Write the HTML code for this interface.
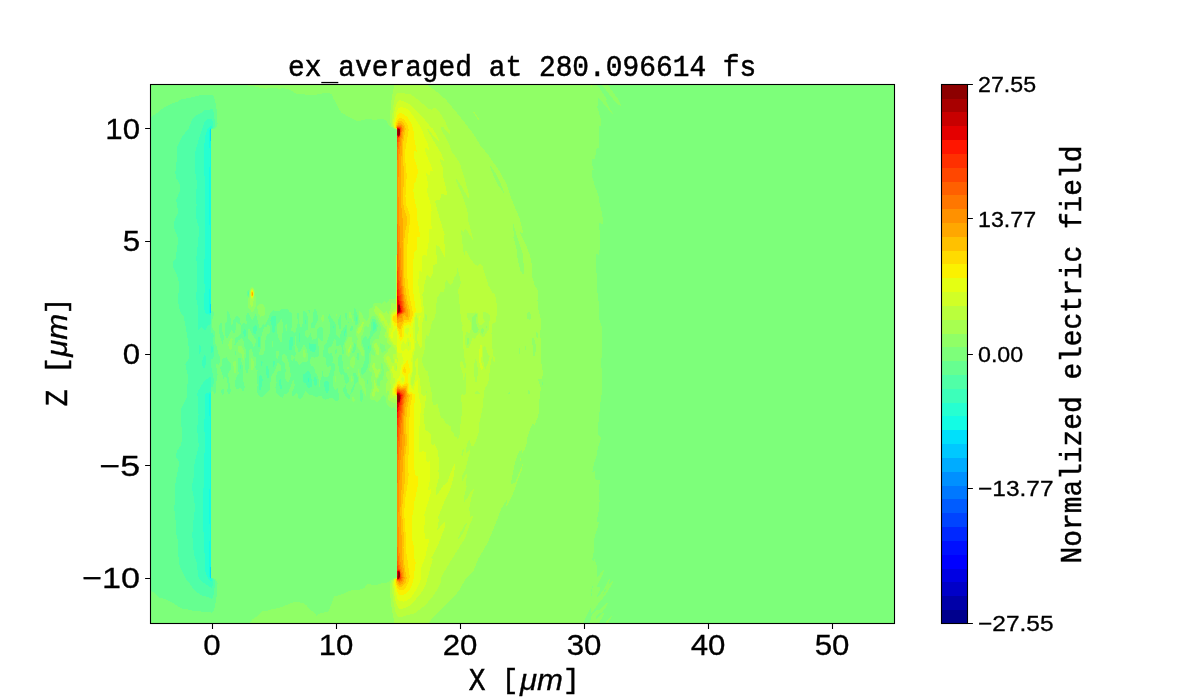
<!DOCTYPE html>
<html><head><meta charset="utf-8"><title>ex_averaged</title>
<style>
html,body{margin:0;padding:0;background:#fff;}
svg{display:block;will-change:transform;}
.s{font-family:"Liberation Sans",sans-serif;fill:#000;stroke:#000;stroke-width:0.3px;}
.m{font-family:"Liberation Mono",monospace;fill:#000;stroke:#000;stroke-width:0.5px;}
.i{font-family:"Liberation Sans",sans-serif;font-style:italic;fill:#000;stroke:#000;stroke-width:0.3px;}
</style></head><body>
<svg width="1200" height="700" viewBox="0 0 1200 700">
<rect x="0" y="0" width="1200" height="700" fill="#ffffff"/>
<defs><clipPath id="ax"><rect x="150" y="84" width="745" height="540"/></clipPath></defs>
<g id="field" clip-path="url(#ax)" shape-rendering="crispEdges">
<rect x="150" y="84" width="745" height="540" fill="#7dff7a"/>
<path fill="#90ff66" fill-rule="evenodd" d="M247 83.5l349.8 0 0 1 8.9 13 1 2-0.8 1 0.4 1 6.3 12-0.1 0.5-1-0.8-12-14.4-1-0.9-1 0.2 0.1 3.4 0.9 4-1 0.2-0.3 0.8 3.4 12 0 3 1 5-2.1-0.5-0.2 0.5 0.1 9-0.6 12-0.3 0.6-2 0.5-0.6 0.9-0.6 8-0.6 2-2.2-1-0.9 1 0.2 5 1.8 5-0.1 1-2-1 0.4 6 1.9 7 4.7 13.8 1.3 8.2 1.7 6.1 1 5.9 0.2 5-0.2 2.6-3-1.2-0.6 2.6 1.2 9 0.4 13.4-1.4 2.6-0.6 4.3-2-1.1-0.8 0.8-0.1 1 0.5 5 0 9 1.4 11.1-0.5 8.9 1.5 11 0.6 15 0.5 5 1.9 5.9 1 9.7-1.3 29.4 1.2 9 0.1 13.1-1.8 12.9-3 30 0.8 4.2 2 2.5 0 2.3-2.6 9-1.4 7.2-2.6 8.8-1.4 7 1 0.3 1-0.9 1 0.3-0.7 5.3 0.4 2 1.3 1.1 3.1 0.9-0.1 3.8-1 6.2 0.1 8 0.9 1.4 0.1 1.6-1.1 10.4-1.9 9.6 0.9 0.8 1-0.6 0 2.8-3.9 13-0.6 4-0.5 12.1-1.3 5.9 1.3 1.8 1-2 2.5 7.2-0.2 10 0.7 0.7 5-6.5 1-0.3 0.2 1.1-1.8 5-4.8 9-0.1 1 0.5 0.8 2-0.3 0.8 0.5 0.1 1-3 7-0.3 1 0.4 1 6.1-8 4.9-9.7 1-0.9 0.3 0.6-0.8 3 0 1 0.5 0.3 3-2.5 0.4 0.2-1 3-4.9 8-4.4 6-4.1 4.7-7 10.3-1-5.4-6.5 12.4-0.9 4-333.1 0 0.3-2 1.9-3 5.3-3.6 5-4.8 5-0.3 5-1.7 7-1.3 14-5.6 4 0 6 0.8 3.1 2.5 3.4 4 3.9 3 2.6 3.1 4-2.4 7-1.4 1-0.6 1.5-2.7 0.1-2 0.9-1 1.1-4 0.9-1 0.3-2 1.2-2 9-2.7 5-2.6 3-1 7-0.2 4-1 2.4-1.5 1.6-2.8 1-0.8 6 1.2 3 0 5-1.6 5-0.7 8-5 2-0.3 0-167.6-2-2.1-1-0.4-2 0.6-4-2.7-1-2-0.3-4.8-1.7-2.5-1-0.5-1 0.5-2 3-3 3.2-3-1.8-2 0.1-1.5-1-1.2-2 0.9-6 1.5-5-0.2-3-1.4-4 1.4-5-0.4-2-2.1-1.4-0.3-1.6 1.7-8 0.1-6 0.5-1.2 3 1.3 0.2-1.1-0.2-2.4-2-4.4-0.2-4.2 2.2-3.9 1-0.8 3 0.4 2.4-9.7-0.2-3-2.2-4.8-3-4.7-2-1.4-1 0-1.4 1.9-1.2 3-0.6 6-0.8 0.7-2-1.2-1 0-1 1.4-1.2 6.1-2.1 3-0.5 5 0.3 4 2.5 4.5 0.6 2.5-0.4 3-1.2 0.7-1-0.8-1.5-4.9-2.5-3-0.5-5 0.7-4-1.7-4-0.3-2 0.3-3 3.7-7-0.8-9 0.2-2 0.4-0.4 2.5 2.4 1.5 4.3 3 2.8 1-0.4 1.5-3.7 0.5-7.6 1-1.2 1 0.5 1-0.9 0.8-2.8 1.2-1.5 1-0.4 4 0.2 2 1.4 2-2.5 1-0.3 2 1.3 1-0.2 1.8-3 1.2-0.8 4 0 2-1.2 0-168-2-0.3-4.7-2.7-1.1-1-2.2-4.7-3-1.6-3-0.2-6 1-6-1.1-2 0.1-6 1.7-2 0.1-3-0.4-7-3.5-7.1-4.4-3.4-5-2.2-5-2.5-4-1.3-4-0.5-0.6-2-0.7-6-0.1-2 0.8-7 1-7 0-6-1.1-4 0.4-2-0.7-5-3.4-6-1.8-5 0.3-7-0.6-7 0.6-5-0.7-7-1.9-5-0.3-1.5-1.2zM542.5 382.2l-0.6 1.3 0.6 1.5 0.7-1.5zM591.5 588.5l-0.7 2 0.7 1.8zM592.5 585.8l-0.8 1.7 1 0zM604.5 590.5l-1.5 3 0.5 0.5 1.3-2.5zM605.5 589.2l-1 1.3 1 0.4zM380.5 342.9l-0.8 1.6 0.8 4.7 1 3.2 1 0.7 3-2.5 0-2.1-1-3.5-3-1zM591.5 593l-0.4 2.5 0.4 0.7zM381.5 363.4l-0.3 2.1 0.5 5-0.4 2-1.8 2.7-1 2.7-1.3 1.6-0.6 2 0.5 3 1.4 1.6 1-0.5 1-4.3 2-1.6 1.6-6.2-1.1-8-0.5-1.3zM601.6 83.5l5.8 0 0 1 11 15 2.1 4 0.4 2-0.4 0.4-3-2-4-4.2-11.9-15.2zM211.5 131.5l0-0.4 0.4 0.4 0 168-0.4 8.3zM250.9 287.5l1.6-0.7 1 0.8 1.4 2.9 0.4 2 0.7 13-2.5 5.7-1 1.2-1-0.6-3.2-4.3-0.7-3 0.2-4 1.4-4 0.5-7zM258.7 304.5l1.8-0.9 1 0.1 1.4 0.8 1.4 2 0.7 3 0.1 3-0.4 2-1.2 1.6-3 0.4-2-2.2-1.4-6.8 0.1-1zM349.2 312.5l0.3-0.4 1 0.2 0.8 1.2 0.6 4 1 2-0.4 2.4-1.1-3.4-1.9-0.7-0.5-1.3zM336.4 313.5l0.6 1-0.5 1.1zM322.4 314.5l1.1 0.6 0.5 2.4-0.5 3.7-1 0.6-1.2-2.3 0.2-2.8zM350.4 336.5l1.1 0.7 0.9 2.3 0.3 5-2.8 11-0.4 0.9-1 0.3-1-0.5-1-1.6-1.3-9.1 0.3-2 2.9-6zM231.2 338.5l0.3-0.5 0.8 0.5 0.2 1-1 9.7-1 1.2-1.7-2.9-0.5-3 0.8-3zM238.3 346.5l1.2-0.9 2 0.8 2 3.1 1.1 4-1.1 6.1-1-1.2-1.2-4.9-0.8-0.9-1 0.2-1-0.6-0.6-2.7zM303 350.5l0.5-1 1 0.2 1 2.8 0.1 4-1.1 1.2-1-0.9-0.8-2.3zM352.9 356.5l0.6-0.3 1 0.8 0.8 5.5-1.1 4-0.7 1.1-1 0.1-2.7-2.2-0.2-2 1.2-5zM251.1 358.5l0.4-0.5 1.8 2.5 0.6 2-0.2 5-1.2 2.3-1.1-0.3-0.9-2.7 0-6.6zM234.2 360.5l1.3 0.2 0.4 1.8 0.5 7-0.9 3.7-1 0-0.6-2.7-0.5-6 0.1-2.2zM347.1 366.5l1.4 0 0 3-1.4-1zM357.5 369.5l1-0.2 1.5 5.2 1.4 3 2.1 1.2 0.9 1.8 1.9 13-0.2 2-0.6 0.3-1-1.7-3-8.4-2.3-2.2-0.3-6-1.4-5.5zM335.4 376.5l0.1-0.6 0.8 3.6-0.8 2.2-0.7-2.2zM351.2 376.5l0.3-0.6 1.1 3.6-0.1 1.5-1 1.3zM219.4 377.5l0.1 3-1 2 0-3.1zM211.5 396.5l0.4 13 0 166-0.4 0.4zM352.1 397.5l0.4-0.7 1 0 1 2.3 0 2.3-1 1-1.3-1.9zM607.4 602.5l0.4 0-0.1 1-0.8 2-4.1 6-1.3 1.3-1 0.2-1-0.3-1 0.8-2.8 4 0.3 1 1.5 0 4-4.6 3-1.6-1 3.2-5 8 0 1-12.7 0 0-1 1.7-0.9 2 0.5 0.3-2.6 1.2-1 0.5-3.9 5-6.1 2 0.5 2-0.9zM610.6 616.5l0.9-0.7 0.5 0.7-4.5 7 0 1-2.8 0 0-1z"/>
<path fill="#a7ff50" fill-rule="evenodd" d="M394.7 83.5l32.7 0 0 1 1.1 1.5 7 4.8 10 8.4 13 15.5 14.6 18.8 7.4 12.2 8 9.4 12 17.8 6.2 11.6 4.3 13 8.6 21 3.2 13-0.3 2-1-0.1-1-1.1-0.4 0.2 0.4 2 6.2 12 3.6 10 1.6 8 0 10 0.6 3.5 2 6.8 1 2.2 1 0.7 1 1.9 0.8 4.9-0.8 6 0.1 3 0.8 6 2.6 11-0.1 6-0.9 8 1.1 8-0.3 10 0.6 11 1.1 6.1 0.2 4.9-0.5 4-3.7 0.3-0.3 0.7 2.7 9-1.7 13-0.1 10-1.5 6-2.1 5.5-1 1.6-2-0.5-1 1.7-4.3 11.7-0.7 7-1.4 4-2.6 4.5-1-3.2-2.1 1.7-2.2 4-1.7 5.2-4 19.1-0.4 2.7 0.4 1.9 1-0.7 2-0.4 1-1.5 7-17.5 0.1 1.2-1.1 5.2-3.2 7.8-3.8 11.5-3.5 8.5-3.5 6.2-1 1.3-0.3-0.5 0.7-4-0.4-1.2-5 8-8.6 22.2-5.1 12-9.4 16-4.9 12.2-2 2.5-5.8 5.3-6 11-3.2 4.4-8 8.4-11 10.3-7.8 8.9-1 2 0 1-33.8 0-3.1-15-2.2-19 0.1-5 1.7-5 3.1-2.2 2.1-0.8-0.1-173-1-1.1-6.9-2.9-0.5-3 0.8-4-0.4-2-1-0.5-1 1.9-1-1.4 1-2-0.2-6 1.7-3-0.2-1-1.9-3 0-3 0.6-2 2-0.8 0.1-1.2-1.1-3-3.6-6-0.5-3 1-2 2.8-3 1.3-3.9 2-1.4 0.1-1.7-0.8-1-1.3 0-0.8-1-1.2-5.3-2-0.7 0-2 1.3-4-0.3-2.5-2-1.8-1-2.6-2-2.5-3-5.9-2.9-3.7-0.4-2 0.5-3 0.8-1.3 1 0 3 2.3 4 4.5 1 0.2 2-2.1 1 2.2 1 0.3 2-4.9 0.4-4.2 0.6-1.2 1-0.5 2 1.4 2-0.4 0.1-174.3-2.1-0.8-3.1-2.2-1.1-4-0.6-5 2.1-20zM467.5 337.5l-0.9 3 0.9 4.1 1-0.1 0.7-3-0.7-3zM475.5 314.2l-3 3-0.5 2.3 0.3 10 1.2 2.7 1 0.7 2-0.4 1.2-1 1.2-2-2.8-6-0.2-3 0.9-5-0.3-1.1zM482.5 328.1l-1.6 1.4-0.3 1 0.9 2.9 1 0.5 1-2.4 0.2-2-0.4-1zM486.5 325.8l-0.5 1.7 0.5 1 0.5-2zM490.5 165.9l-0.4 1.6 4.4 10.7 4 7.4 5 7.1 0.2-1.2-3.7-10-4.9-9zM509.5 392.4l-1.8 1.1 1.8 0.5 0.4-0.5zM513.5 224.1l-0.9 2.4 1.2 6-0.3 5 3.1 12 0.9 8.9 1.8 8.1 1.2 4.1 2 3.6 1-0.7 0.7-4-1.7-16.8-6.4-19.2zM525.5 345.5l-0.7 1 0.7 3.4 0.6-1.4zM528.5 312.2l-1.8 1.3 0 3 0.8 2.5 2 0.8 1-0.4 0.6-0.9 0.1-4-1.7-2.1zM532.5 337.7l-0.4 2.8 1.1 13 0.3 2.2 1 0.2 1.2-4.4 0.1-5-0.8-6-1.5-2.5zM536.5 332.3l-0.1 4.2 1.1 1.9 0.1-4.9zM519.5 347.9l-0.6 3.6 0.6 2.8 0.6-2.8zM528.5 390l-0.6 2.5 0.6 1.4 1 0 0.5-2.4zM590.3 83.5l1.3 0 0.9 3.4-1-0.4-1-1.3zM473.4 112.5l0.1-0.5 1 0.3 2.4 3.2 1.8 3 0.2 1-0.4 0.5zM251.6 288.5l0.9-0.2 1.1 1.2 0.7 2 0.2 3-1.6 10-0.4 1.3-1 0.7-1-1.1-0.4-1.9-0.4-9 0.5-4zM362.3 322.5l0.2-0.4 1 0.3 0 1.8-2 6.2-1 1.6-2 1.7-1.1-1.2 0.2-3 0.9-2 3-3zM374.9 343.5l0.6-0.8 1-0.1 2.1 4.9 0.8 5-0.9 2.9-1-0.2-1-1.5-1-4.1-1.8-3.1 0.4-2zM350.3 345.5l0.2-0.8 0.3 1.8-0.3 2-1 3.6-1 0.9-0.5-1.5 0.1-2zM373.5 362.5l1 0.5 1 4.9 1 1.5 1 0.1 1-1 1 0.4 0 2.6-1.8 5-1.2 1.1-1-0.6-1.4-5.5-2.1-4 0.2-2zM374.2 380.5l0.3-0.3 0.6 1.3 1 4 2.6 4 0.5 2-0.7 0.5-2-0.7-0.4 0.2-0.6 0.6-0.7 3.4-1.3 1.1-1-1-0.3-2.1 1.4-5-0.1-7zM520.4 458.5l0.1-0.3 0.4 0.3-0.4 2.2z"/>
<path fill="#baff3c" fill-rule="evenodd" d="M397.1 93.5l1.4-0.9 1 0 11 1.8 4 2.5 14 11.6 3 1 3-1.6 2 1 2 2 3 4.5 4 6.8 1.7 4.3 2.4 4 0.8 2-0.9 1.1-2-1.4-4-4.8-2-0.7-0.7 0.8 0.5 2 7.1 13 3.4 9 6.7 9.6 2.3 4.4 1 5 2.2 6 4.2 15 0.9 5-0.6 1.3-1-0.9-7-12.2-4-5.7-0.6 0.5 0.6 2.5 6.2 14.5 4.7 14 1.1 11 4.2 16-0.2 2.3-5-8.7-2-2.4-0.9 0.8-1.1 2.7-2-2.1-0.3 1.4 0.3 4 2 16.7 1 2.7 0.9-3.4 1.1-0.5 4.5 8.5 3.5 4.6 3 1.9 1-0.5 1-1.7 1 0.1 2 2.5 6 19.2 4 7.3 1-0.1 1 0.7 1.8 7 0.4 5-0.1 10-0.5 4-0.6 2.8-1 0.6-1-0.3-1 1.2-1 9.7 1.4 21 0.6 1.7 1 0.3 0.5 1-0.1 3-0.4 1.2-1-1-1-3.9-1 2.7-1.1 6-1.9 15.3-1 3.7-2.1 3-1.3 4-1.3 15-3.5 17-0.8 10-3 9-2 3.1-1 0.8-1-0.1-2-6.3-1 1.2-1 2.3-1.3 5-0.2 3 0.5 1.3 3-2.5 0 3.3-3.8 14.9-2.6 5-1 3-0.2 3 0.6 1.6 2.6-5.6 1.3-2 0.4 0 0.5 1-1.5 7 0.7 5-2.8 12 0.2 2 0.6 1.2 2-2.4 5-8.6 2-2.2 0 2-2.2 7-2.1 11 0.8 7 0.5 1.1 2-0.5 0.4 0.4-0.4 2-3.5 8-3.5 11-18.8 30-5.1 9-0.8 2 0.7 2-2.1 5-2.8 5-5.1 7.5-6 7-11 8.5-2 0.8-4 0.4-8 2.5-2-0.6-1-0.9-2.1-4.2-2.3-12-1.3-13 0.1-3 0.8-3 0.8-1 3-1.5 0.1-0.5-0.1-177.9-2-0.5-2-1.6-2.1 0-0.1-7 0.8-4-1-5 1.4-6-1-3-0.5-5-2.5-4.3-1.5-4.7 0.5-2 1-0.8 1 0 1.5 1.8 1.6 5 0.9 1 1-0.5 0.2-2.5-0.7-5 0.5-1.1 2-0.2 0.4-2.7-0.6-3-1.9-2-1.9-3.6-2-1.8-0.8-1.6-1.4-8-0.3-5-1.9-1-1.5-4-2.2-1-1.9-4.3-0.5-2.7 0.5-0.9 1 0.3 3 2.8 1.4 3.8 2 1 1.1 4 0.5 0.4 1.3-2.4 0.1-6 1.1-4 1.5-1.9 3-1.8 1-1.4 0.1-177.9-0.1-0.4-3-1.6-0.8-1-0.7-3-0.1-3 0.9-11 1.5-9 1.2-4.4zM425.5 314.3l-0.6 2.2 0.2 3 0.4 1.4 1 0.2 0.8-1.6 0.1-2-0.9-3zM457.5 267.8l-0.7 5.7-1.3 2.7-1.5 1.3-0.7 4-0.8 1.8-2 1.3-1-0.2-3-4.6-1 2.1-0.6 5.6-1.3 5-3.1-0.2-3 5.2-1.2 7-0.2 7-1.3 6-2.9 5-2.4 10.9-1 2.7-2-1-0.9 2.4-0.9 12-3 11 0.4 2 2.4 5.6 1 1.6 2 1.8 0.3 1 4.3 23 0.4 6 1 3.4 1 0.6 2-1.2 1 0.1 3 12 1 1.3 2 0.9 2 4.7 2 0.5 2 2.1 1 0.4 1 4.7 2 1.6 0.6 0.9 0.4 2.3 0.6 0.7 1.4 0.2 1 2.4 1-0.9 1.2-3.7 0.7-5 0-5 1.7-13 0.2-6-1.1-5 0.3-5.5 1-1.1 1 1.2 1 0.1 1.9-1.7 0.1-1-1-2 0.6-9-0.5-8-0.1-0.4-2 7.4-0.6-6-2.7-8 0.3-4.7 1-1 1.4 1.7 1.6 5.8 1 0.2 0.4-3-1.6-9-0.7-7-0.9-4-0.1-13-0.4-5 0.5-2-1.5-4-2.9-30 0.2-2.9 1.9-3.1 0.3-4zM475.5 312.2l-2 0.7-5-0.2-1.4 0.8-0.3 1 1 5 0.7 1 1-0.1 1 1.3 0.3 3.8-0.3 4.6-0.8 2.4-1.2 0.1-1-0.7-1 0.5-1.3 4.1-0.3 4 0.4 4 1 3 1.2 0.7 1.3-0.7 1.4-2 2.3-7.8 2 1.1 1-0.7 2.1-3.6 0.9-0.9 1-0.2 3 3.9 1-0.2 4.7-6.6 0.7-2 0.3-6 0.9-5-0.3-2-0.6-1-1.7-1.6-3-0.6-1.1 0.2-0.7 1 0.1 3 0.7 3 1.2 2-3.2 3.6-1 0.4-1.2-1-1.2-3-0.3-8zM466.5 522.9l-2 2.4-4 7.1-2.2 5.1 0.2 1.5 2.3-2.5 2.7-4.4 3.2-7.6 0.2-1zM395.5 366l0 2.3 1 0.5 0-3.2zM426.5 391.2l-0.5 1.3 0.5 0.5 0.5-0.5zM463.5 448.6l-1 1.5-1 4.4 0.4 1 0.6 0.2 1.2-4.2zM475.5 359.2l-1.3 5.3-0.3 9 1.6 8 1 0.6 1.2-7.6 0.2-5-1.4-9zM484.5 345.9l-1 1.2-0.4 2.4 0 10 1.4 7.2 1 2.8 3.7-11 0.3-2-0.3-1-2.2-3-1.2-5zM476.5 391.2l-1.6 1.3-0.2 1 2.8 0.7 2-0.3 0.4-0.4-0.4-1-1-0.7zM251.4 289.5l1.1-0.4 0.4 0.4 1.2 3-0.2 4-1.4 2.6-1 0-1.3-3.6 0-3z"/>
<path fill="#d1ff26" fill-rule="evenodd" d="M398.7 100.5l1.8-0.2 3 1 4.7 2.2 3.3 2.2 14 14.8 3.8 5 3.2 2.9 5 8.4 1.1 2.7-0.1 1.3-2-1.3-3-3.2-5-7.1-1-0.6-0.1 0.9 4.2 8 9.9 16.6 2.6 6.4-0.6 0.7-3-2.3-1.1-0.4 0.3 2 3.3 8-0.2 7 3.6 14 0.3 5-0.2 0.5-1 0.2-2-1-2-0.2-0.7 0.5-0.3 4-0.9 2-3.1-0.2-1 1.2 0 1 1.5 7 7.6 25-0.6 5 1 8-0.4 10-4.8-10-1.3-1.3-2-0.7-0.5 2 1 14-0.2 2-0.3 0.7-3 0.7-0.9 8.6-2.1 4.8-3-2.9-1 1-2 7.9-1 8.4-1.1 1.8 1.6 17-0.5 6.7-1.8 6.3 0.3 20-0.5 2.7-1 1.3-3.6-9 0.1-4 1.6-5 0.1-2-1.2-10.8-1-2.5-1 1.6-0.9 9.7 0 8 1 7-0.2 4-0.8 5-2.1 8.2 0.6 10.8-2.3 11 0.6 4 1.1 1.3 1-1.3 2-9 0.5-5-0.9-6 0.2-3 1.2-2.9 1-0.7 1 0.1-0.4 13.5 0.4 3.3 1.8 5.7 0.4 11 0.8 2.3 2 2.5 2-1 0.7 1.2-2.7 18 0 6.3 1 2.7 1 6 1 1.6 2 0.6 1 0.8 1 1.6 1 10 1 0.9 2-0.7 1 1.2 1.8 4 1.1 4 0.4 11-0.4 7 0.6 5-2.8 12-0.4 5 0.7 1.3 2-1.9 4.7-7.4 3.3-2 1-1.4 5-14.4 2-3.3 0.5 2.1-1.6 11-2.2 9-2.7 6.8-3.4 6.2-6.7 17 0.2 5-1.4 8 0.3 0.3 1-0.8 4.2-5.5 1.8-1.6 0.3 5.6-7.8 20-5.5 10 0 1 1 0.7 0 0.7-6.4 23.6-2.3 5-3.1 5-8.2 9.5-3 2.7-3 1.8-6 1.5-1-0.2-1.5-1.3-2.1-5-1.6-8-1.2-10 0.6-4 0.6-1 2.2-1.4 0.2-0.6 0-166-0.2-15.1-3.1-0.9-1.4-1-0.5-1 0.2-3 2-7 0.9-1 0.6-2-0.7-2.3-1-0.1-0.5-4.6-1.5-2.5-0.2-1.5 0.8-3 1.4-0.3 1 3.9 1 1.1 1.3 0.3 0.6-2 0.1-6-0.2-1-1.8 0.3-0.4-2.3 0.4-1.7 1 0 0.8 0.7 0.2 2.6 0.2-2.6-1.2-13-0.3-1-2-1-4.3-6-0.6-2-0.3-7 0.5-1.6 1-0.2 0.5-1.2 0.1-10 0.4-2.1 1-1.7 4-2.2 0.2-181-0.2-0.6-2.2-1.4-0.6-1-0.5-4 0.9-9 1.4-6.9 2-5zM408.5 341.9l-0.4 2.6 0.4 1.7 0.9-0.7 0.1-1zM251.2 290.5l1.3-0.7 1.3 2.7-0.1 3-1.2 2.5-1-0.2-0.9-2.3 0-3zM480.4 345.5l0.1-0.4 1 0.2 0.3 1.2-0.1 9-0.8 6 1.6 4 0.2 2-0.2 1.5-1 1.1-1-1.6-0.8-4-0.9-9 0.3-5z"/>
<path fill="#e4ff13" fill-rule="evenodd" d="M400.1 107.5l2.4-0.1 2 0.4 3 1.6 2 1.8 5 6.3 7.5 12 3.1 9 2.4 4.8 1.2 4.2-0.2 2.1-3-1.8-0.5 1.7 0.6 3 5.9 14.4 1.1 3.6-0.1 0.5-2.2 0.5-0.3 3-0.5 0.7-3-1.9-0.3 1.2 1.8 9-1 8 3.5 12.5 1.1 6.5-0.8 7 0.9 11-0.2 0.6-2 0.2-0.3 1.2 0.1 10-1.5 4-0.6 10-0.7 1.4-2-1.1-1 0.1-1 1.1-0.6 2.5-0.1 12-0.3 1.2-2-0.4-0.3 1.2-0.1 5-0.7 2-0.3 4 3.1 20 0.6 7-0.3 1.3-1 0.8-4 0.4-1 0.4-0.7 1.1-0.8 6-1.2 5-0.3 3 0.5 8 1 5 0 3-0.5 4.5-1.3 3.5-0.8 7 0.6 11-0.5 2.4-1.5 3.6-0.3 3 1.2 8 2.6 2.4 2-8.2 1-1 1-0.2 1.4 17 1.9 6 0.1 5-1.9 24-0.5 16.7 1 2.9 0.6 0.4 3.4-1.6 2 1.4 1 8.3 1 1.1 2-0.3 0.5 2.1 0 7 0.5 7-2.5 12 0.5 0.8 2-1 0.1 4.2-6.2 21 0.6 7-1.3 8 0.2 2 0.9 2 0.2 5 0.5 0.8 1 0.1 2-0.5 0.5 1.6-3.9 17-3.8 10-0.1 10-2.3 7-3.7 7-4.4 6-3.6 3-3.7 1.2-4-0.8-2-2.3-2-6.3-1.4-8.8 0.3-3 0.5-1 1.6-1.2 0.2-0.8 0.1-165-0.3-17-3.3-2-0.6-2 1.4-5 2.5-4 1-3.3 2.4-3.7 1-9 2.4-4 0.4-2-2.2-7.1-3-0.4-1-0.7-0.5-19.8-0.5-4.7-2.7 3.7-0.6 2-0.1 4-0.4 1-1.4-1-0.9-2 0.3-2 1.7-3 0.5-2 0-2-1.2-6 0.3-5 1.5-1.9 3-1.8 0.1-2.3 0.1-180-0.2-0.8-1.6-1.2-0.5-1-0.2-3 2.3-12 1.7-3zM407.5 327.5l-2 1.6-0.3 1.4 0.3 2.2 1 1.4 1 0.4 1-2 0.4-3-0.4-1.8zM402.5 377.2l-1 1.3-0.1 1 0.2 1 0.9 1.1 1-1 0.2-1.1-0.2-1.4zM407.5 338l-1 3.9-1 1.8-2-2.4-1 0.8-1.4 2.4-0.2 3 0.6 2.6 1 1.4 1-0.1 2-2.1 1-0.3 2 1.9 2.5-1.4 0.3-2-0.5-5-2.3-4.9zM251.9 290.5l0.6-0.2 0.7 1.2 0.4 2-0.2 2-0.9 1.8-1-0.3-0.8-2.5 0.4-3zM420.2 315.5l0.6 0-1.3 4.4-0.1-3.4z"/>
<path fill="#fbf100" fill-rule="evenodd" d="M399.2 113.5l1.3-0.4 3 0.8 4 3.2 3.7 6.4 2.3 7 1.2 11 2 9-0.2 1.1-2-0.2-0.8 1.1-0.2 4 3.6 10 1.1 6-1.5 4-0.7 5-2.3 3-0.3 7 0.7 6 2.7 12 0.7 11 2.6 15-0.6 1.9-2-0.5-0.3 0.6 0.1 10-0.8 2.5-2.1 2.5-1.4 11-0.4 24 3.3 23-0.3 1-1.7 2-0.6 5-2.8 7.5-2-1.9-4 2.4-1 3.6 0.3 6.4-2.3 3.9-1 0.2-1.3-2.1-2.7-12.5-1 0.4-1-0.6-2-5-0.2-2.3 0.6-3 3.6-2.6 0.1-2.4 0.3-170-0.1-11-0.3-1-1.1-1-0.4-2 0.3-3 1.2-4.7 1-2.4zM251.4 291.5l1.1-0.7 0.8 1.7 0 2-0.8 2.1-1-0.3-0.3-0.8-0.3-2zM410.3 334.5l0.2-0.9 0.3 1.9-0.3 1zM407.5 359.5l2.7 11-0.1 1-1.7 3-0.5 3 1.6 14 2 0.6 2 1.6 1.8 0.8 0.1 1-1 8-0.9 19 0.6 20-0.3 13 0.7 14.4 1 5.3 2 1.3 0.3 1 0.1 7-0.7 5-2.6 11-1.2 10-1.3 7-0.3 18 0.5 5 1.8 7-0.5 10 1.7 3 0.4 2-2.4 18-2 6-2.3 4-2.5 2.6-3 1.6-3 0.4-2-1.1-1-1.6-2-6.4-0.6-3.5 0.5-3 1.1-1 0.3-1 0.1-7 0-157-0.4-19-2.3-2-0.5-2 0.8-2.8 2-2.7 1-3.2 1-0.7 1 0.1 1.4 2.3 1.6 0.5 1.1-0.5 1.3-2 0.2-4-0.9-2-2-2-0.5-2 0-2 1-3 3.2-4z"/>
<path fill="#ffdb00" fill-rule="evenodd" d="M398.5 118.5l1-0.7 2 0.1 3 2.1 2.9 4.5 1.3 5-3.3 20-0.2 10 1.5 16-1.3 21 1 9 2.8 7 0.8 4-0.3 7-0.8 8-0.9 4-0.6 11-0.2 29 1.7 17 3.8 19-0.2 5-2 5.4-2-0.2-2 1.3-2 0.5-1.2 2-0.9 3-0.2 6-0.7 2.6-1-0.3-1.3-4.3-1.7-3.3-1-6.3-1 0.2-1-1.2-1-1.4-0.3-2 0.3-2.1 3-2.1 0.2-3.8 0.4-161-0.2-20-0.4-1.4-0.7-0.6-0.2-2 0.9-3.7zM252.1 291.5l0.5 0 0.5 2-0.6 2.5-1-0.4-0.3-1.1 0.1-2zM404 367.5l0.5-0.6 0.5 0.6 1.3 5-0.8 1-2.3-2-0.2-2zM405.9 383.5l0.6-0.5 1 1.4 1 8.3 1 0.9 2 0.7 0.8 1.2-1.8 10-1.6 18 0.5 14-1.2 24 0.4 14-0.8 8-2.9 17-0.7 13 1.7 24 0.1 14 1.8 10 0.2 5 1.1 4 0.6 7-0.8 4-2.4 5-3 3-3 0.9-2-1.1-1-1.5-1.3-3.3-0.6-3 0.2-2 0.7-0.7 0.4-1.3 0.1-15-0.1-145-0.4-24.1-1.6-1.9-0.2-1 0.8-2.5 1-0.7 1-3.5 1-0.2 3 2 2-0.4z"/>
<path fill="#ffc100" fill-rule="evenodd" d="M398.4 121.5l2.1-0.6 2 1 2.6 3.6 0.6 3-2.2 12.1-0.3 4.9-0.2 12 1 17-0.2 9-0.7 8 0.1 10 0.7 7 2.8 8 0.6 4-0.3 3-1.7 7-1.2 12 0.1 32 1.5 16 1.8 10.2 2.7 10.8-0.8 7-0.8 1-2.1 0.9-2-0.1-2.7 5.2-1.3 3.6-1 0-2-2.6-0.9-11 0.5-34 0.1-117-0.3-35-0.7-2 0.4-3zM251.6 292.5l0.9-0.6 0.2 0.6-0.2 3-1-0.7zM397.5 385.5l1-0.1 3 1.4 4-0.8 1 0.5 1 6 2.3 3-2.3 12-1.7 16-0.1 6 1.4 8 0.1 3-1.9 15-0.3 23-2.8 29 0.2 10 1.6 21-0.5 9 0.2 11 1.3 11 1.7 9-0.6 3-1.6 2.8-2 1.9-2 0.8-2-0.8-1-1.2-1-2.3-0.3-2.2 0.7-3 0.1-7 0.2-58-0.2-100-0.3-16-0.6-6z"/>
<path fill="#ffa700" fill-rule="evenodd" d="M398.3 123.5l1.2-0.6 2 0.6 1.8 2 0.7 3-1.6 11-0.8 13-1 32 0.2 16 2.2 23-0.5 18 0.4 39 1.6 14.3 3.6 16.7-0.6 5.7-1-0.1-2-2.3-0.8 0.7-1 5-1.2 1.9-2-0.3-2 1.3-0.8-9.9 0.6-137-0.2-39-0.1-8-0.5-2 1-3zM251.9 293.5l0.6-0.9 0 2.1zM397.2 387.5l0.3-0.8 3 1.1 5 0.2 0.8 1.5 0.6 4 0.9 2-2.1 10-1.2 11-0.3 11 0.7 15-1.7 17-2.8 50 0.2 11 1 16 0.2 17 2.9 25-1.2 3.9-1 1.2-2 1.1-1-0.1-1.5-1.1-1.5-4 0.5-2 0.3-28-0.1-117-0.6-41z"/>
<path fill="#ff9100" fill-rule="evenodd" d="M399.5 124.5l2.1 1 1.2 3-3.5 27-1 27 0.4 26 3.4 74 2.4 19.7 1.9 9.3-0.4 1-3.6 2-0.9 3-2 0.8-2 2.2-0.7-8 0.6-130-0.1-40-0.6-15 0.8-1.7zM397.3 388.5l0.2-0.7 3 1.1 3 0.1 1.3 0.5 0.8 1 0.7 5-1.8 7.7-1.4 16.3-0.9 24-2.1 21-1.5 39-0.2 20 1.1 29 1 9 3 16-0.2 2-0.9 2-1.9 1.4-1 0.1-2-1.7-0.8-1.8 0.7-35-0.1-108-0.5-43z"/>
<path fill="#ff7700" fill-rule="evenodd" d="M397.4 126.5l1.1-0.6 2 0.1 1.2 1.5 0.4 2-3.3 16-1.3 14.7-0.6-32.7zM397.5 223.5l2.9 52 1.5 14 3.1 22-0.7 1-3.2 2-3.6 3.9-0.6-5.9zM397.3 389.5l0.2-0.7 1 0.2 2 0.9 3.2 0.6 1 1 0.3 3-1.2 7-2.6 24-2.7 35-1 23.4-0.7-89.4zM397.5 546.5l2 18 3.2 13-1 3-1.2 0.9-1 0.1-2-0.7-0.6-1.3z"/>
<path fill="#ff6000" fill-rule="evenodd" d="M397.1 127.5l0.4-0.7 2-0.2 1.4 0.9 0.6 2-0.5 4-0.8 3-1.1 2-1.6 8.8zM397.5 253.5l0-0.7 2 27.8 4.5 30.9-6.5 5.4-0.6-5.4zM397.3 390.5l0.2-0.8 1 0.2 4.9 2.6 0.5 3-4.2 30-2.2 28.5-0.6-59.5zM397.5 560.5l0-0.9 1.7 8.9 1 2 1.5 7-0.5 2-1.7 1.1-2-0.3-0.4-0.8z"/>
<path fill="#ff4700" fill-rule="evenodd" d="M397.3 127.5l1.2-0.5 1 0.3 1.2 1.2 0 1-0.5 6-0.3 1-1.7 2-0.7 3.2zM397.5 270.5l2 19.4 3.8 20.6 0 1-1 1-4.8 3.3-0.5-4.3zM397.3 391.5l0.2-1 2.4 1 2.6 2 0.6 2-3.6 22-2 19.5-0.5-41.5zM397.5 565.5l0.7 3 1.7 2 0.8 4 0.1 4-0.7 1-1.6 0.6-1-0.2-0.4-1.4z"/>
<path fill="#ff3000" fill-rule="evenodd" d="M397.9 127.5l1.6 0.3 0.7 0.7 0.2 4-0.9 4-1.7 1-0.3 0.6-0.3-9.6 0.3-1zM397.5 282.5l0-1 2 14.9 2.9 14.1 0 1-0.9 1-4 2.5-0.4-3.5zM397.4 391.5l1.1 0 1.6 1 2.1 2 0.3 1-3 15-2 15-0.5-30zM397.5 569.5l0-0.7 0.3 0.7 1.8 1 0.7 3-0.1 5-1.7 1.1-1-0.1-0.3-1z"/>
<path fill="#ff1600" fill-rule="evenodd" d="M397.3 128.5l0.2-0.7 1-0.1 1.3 0.8 0.4 1-0.2 5-0.5 1.6-1 0.9-1-0.7zM397.5 289.5l2 11.9 2.1 9.1 0 1-1 1-3.1 1.9-0.4-2.9zM397.4 392.5l0.1-0.7 1.6 0.7 2.2 2 0.4 1-2.2 9.9-2 12.2zM397.7 570.5l0.8-0.5 1 0.9 0.7 2.6 0 4-0.4 1-1.3 0.8-1-0.1-0.2-0.7-0.1-5z"/>
<path fill="#e40000" fill-rule="evenodd" d="M397.3 128.5l0.2-0.5 1 0 1.4 1.5 0 5-0.4 1.2-1 0.9-1-0.8zM397.5 295.5l0-0.3 1.6 8.3 1.1 2 0.6 5 0 1-3.3 2.6-0.3-2.6zM397.5 392.5l2 1 1.5 2-0.8 6-1.1 2-1.6 8.4-0.3-16.4zM398.3 570.5l1.3 1 0.5 5-0.6 1.9-1 0.6-1 0-0.1-6.5 0.1-1.3z"/>
<path fill="#c80000" fill-rule="evenodd" d="M397.4 128.5l1.5 0 0.6 0.5 0.4 1.5-0.2 4-1.2 1.7-1-1zM397.5 299.5l1.1 5 1.3 1 0.5 5-0.1 1-2.8 2.2zM397.4 393.5l0.1-0.7 1.3 0.7 1.5 2 0.1 1-0.5 5-1.3 1-1.1 5zM397.7 571.5l0.8-0.7 1 1 0.4 1.7-0.1 4-1.3 1.2-1.1-0.2z"/>
<path fill="#a80000" fill-rule="evenodd" d="M397.5 129.5l0-0.8 1-0.1 1 0.8 0.3 1.1-0.2 4-1.1 1.4-1-1.2zM397.5 303.5l0-0.7 0.4 1.7 1.7 1 0.6 4-0.4 2-2.3 1.8zM397.4 393.5l0.6 0 1.5 1.5 0.7 2.5-0.6 4-1.7 1-0.4 1.7zM398.1 571.5l0.4-0.4 1 1.2 0.4 2.2-0.4 3-1 1-1-0.1 0-5.9z"/>
<path fill="#8d0000" fill-rule="evenodd" d="M397.6 129.5l0.9-0.6 1.1 1.6-0.1 3.6-1 1.4-1-1.4zM397.5 305.5l1-0.3 1 0.7 0.5 2.6-0.5 2.8-2 1.6zM397.4 394.5l0.1-0.9 2.4 2.9-0.2 4-1.2 1.3-1-0.3zM397.7 572.5l0.8-1 1.1 2-0.1 3.5-1 1.1-1-0.7z"/>
<path fill="#66ff90" fill-rule="evenodd" d="M202.3 94.5l9.2 0 2 2 0.1 2 0.9 1 0.2 3 0.8 1 0.2 5 0.8 1 0.3 13 0.7 1-0.9 3-1.1 1.3-1 0.7-3 0.8-0.2 2.2 0 176 0.2 3.7 1.1-0.7 1.1 2 0.2 2-0.4 2-1.9 4-0.1 3 1 4.4 2.6 4.6 0.3 11 1.6 4 1.5 6.3 1.6 3.7-0.6 6.1-1 1-2-0.4-0.4 1.3 1.4 9-1.6 10 0.1 7-0.5 1.5-1 0.5-2-2.1-1 0.1-0.2 184 0.2 2.2 3 0.8 1 0.7 2 3.3 0 1-0.7 1-0.3 13-0.8 1-0.2 5-0.8 1-0.2 3-0.9 1-0.1 2-2 2-8-0.3-5-1.3-5-0.1-5-1.3-6-0.9-3-1.3-7.1-4.8-7.9-3.8-5-0.8-7-6.3-2-1.6-1 0 0-472.5 1 0 5-3.6 3-1.7 3-2.9 3-2.2 7-3.5 5-1.5 5-2.7 13-2.6zM247.5 290.5l1-0.8 0.5 3.8-0.5 3.4-1-0.6-0.5-1.8zM283 308.5l4.5 0.8 2 2.3 2 1.3 0.3 10.6-0.4 7 3.1 2.1 1-0.9 2.3-9.2-0.5-6 0.2-3.2 1 0.2 0.9 10 1.1 3.1 1 0.1 1-2.1 0.3-2.1 0.2-9 0.5-2.8 1 0.1 2.3 2.7 1.2 4 0 11-0.5 1.2-2.3 1.8-0.5 2 0.6 2 1.2 1.8 1 0.6 1-0.4 2-4.9 0.5 0.9 0.8 5 0.7 1.1 2-0.3 2.6-1.8 0-7 0.6-2 0.8-0.9 3-1 1 1.6 0.4 3.3-0.4 9.3-1 0.2-3-2.8-0.8 1.3 0.3 4 1.3 7-0.8 5.4-1 0.8-3 1-3-0.8-0.8 1.6-0.6 3 0.1 2 0.8 2 3 2 1.5 5 2.5 5 1.3 4 0.2 5.8 0.2-4.8 2.5-7-0.7-2.3 0-3.2 1 1.4 0.3 4.1 1.3 1 2.4 0.6 1-0.2 1-1.3 2.3-6.1 0.2-3-0.4-1-2.1 1.7-1.2 0.3-0.7-2-0.8-7-0.3-0.8-2-0.6-0.8-2.6 1.8-9.8 1-0.4 1-1.2 3.2-9.6 0.7-8-0.9-3.9-1.3-3.1 0.4-3 0.9-1.8 2.3 4.8 3.6 5 0.5 2 0 7 0.4 2 0.5 1 2.7 2.4 0.7-1.4 0.7-5 0.6-0.9 1-0.7 3-4.5 1-0.6 0.7 0.7 0.2 8-1.3 5-3.4 8 0.1 2 1.1 3-0.4 2.6-1 0.3-0.3-5.9-1.7-3.3-1-0.3-2 1.4-1 0.1-1-6.5-1-1.2-3 7.3-1 1.3-1.2 0.2-0.8 0.8-0.3 1.2 0.3 3.5 1 0.7 2-1 0.7 0.8 0.8 6-0.2 2-0.6 1 0.3 0.5 1-0.1 1.8 2.6 0.1 1-2.3 11-0.5 7 0.4 2 1.6 3 0.9 0.7 1-1.3 1-0.5 0.5 1.1 1 8-0.5 2-1 1.3-1 0.2-1-0.4-4-2.9-6 2-2-0.8-2-2.4-1-0.5-5 1-3-2.1-3 0-1-0.5-3-3.9-2.5 6-2.5 2.5-1 0.2-1-1.2-1-4.1-1-1.1-2 2.6-1 0.7-1-0.1-0.7-1.5 0.2-2 2.7-7-0.4-3-0.8-2.1-1 0.8-4.1 11.3-1.9 1.6-1-0.5-1 0.7-2 3.4-2-0.7-4-4.2-1-5.3 1-5-0.1-7 0.3-2 1.3-2 2.5-0.6 0.9-2.4-0.5-3-2.4-3-1 0.5-2.7 7.5-3.8 6-0.9 11-0.6 2.3-7 7.3-2-0.4-2.5-2.2-0.8-3 0.4-7-0.8-6 0.7-8-1.2-1-0.9-2 0.9-9-0.6-1-2.2-1.4-1.5-6.6-0.5-0.7-1-0.1-1 1.2-0.7 2.6 0.3 11-0.6 5.7-1 4.2-1-0.2-1-2.7-0.3-4 0.1-7 1.1-8-1.9-5-1-5-2-4-1.7 2-1.5 1-2.8 4.7-1-0.3 0.1-4.4 0.9-2.9 2-0.2 3-3.6 0.4-4.3-0.4-4.9-2.9-1.1-1.1-1.4-0.6 0.4-0.4 7.2-1 3.5-1-0.3-1-2-1-0.7-3.6 7.3-0.4 0.6-1-0.2-1.6-2.4-0.2-3 0.6-9 1.2-1.4 0.7-2.6-0.4-7 0.7-1.3 1 0.3 0.8 2 1.2 4 1 7.5 1-1 1-3.6 3-4.5 2 0.9 1 1.2 1.3 6.5 0.7 0.1 2-1.7 1-0.1 2 1.7 0.3-2-0.8-5 0.3-2 0.9-2 1.3-0.6 0.6 0.6 1.5 4 0.9 1.4 1 0.6 1-1 2-4.1 1.3 2.1 2.2 10 0.5 1.2 1 0.5 1-0.8 1-2.9 1-0.6 1 0.9 1-0.9 2-3.5 2.2-5.9 2.8-3.8 1-0.3 2 0.8 4-0.3 2-1.9zM283.5 353.9l-1 0.6-0.3 1-0.1 4 0.4 2 2 1.8 0.8 3.2 0.3 4-0.5 8 1.9 3 0.5 0.5 1 0 1.4-2.5 1.1-4-1.1-5-0.7-7-3-8-0.7-0.8zM286.5 323.6l-1 1.2-0.5 1.7 1.5 4.9 0.5-0.9 0.1-3zM295.5 336.1l-1 9.4 1.5 9-1.5 2.8-2-2.1-1 0.3-0.4 3 0.4 1.7 1 0.5 2-2.8 1 2.6 2 1.6 1 1.9 1 0.7 3-2.5 4-0.1 1-0.5 0.3-8.1-1.9-6-1.4-2.2-1-0.1-1 1.4-2 4.9-1 0.6-1.3-0.6-0.8-4-1.4-3zM248.5 329.2l-1 4.9 0 3.4 4 4.5 2 4.7 1-0.7 0.9-2.5 0.4-3-0.3-1.8-2.9-3.2-3.1-6.3zM267.5 325.4l-1 1.3-2 0.4-1.2 2.4-1.8 6.8-0.1 9.2-2.2 8 0 1 0.8 1 2.5 0 1.5-2 0.7-3 0.4-8 0.9-6 1.4-2 1.9-1 0.6-1 0.3-3-0.4-3-1.3-1.6zM272.5 341.2l-0.6 1.3 0.6 4.1 0.6-1.1zM276.5 350.8l-0.6 1.7-0.1 2 0.7 3.6 1 1.4 1-3.2 0.2-3.8-0.2-1-1-1zM281.5 319.4l-1 0.7-1 2.2-2 1.8-0.9 6.4 1.9 7.7 2 3.6 1 0.6 0.7-2.9 0.4-9 0.8-4-0.9-5zM286.5 340.3l0 2.5 0.8-1.3-0.2-1zM354.4 308.5l0.1-0.3 1 0.9 2.7 8.4 0 4-0.7 2-1 1.2-1 0.1-0.7-1.3-1.3-9zM308.4 309.5l1.2 0-0.1 3-1-1.5zM314.1 309.5l0.4-0.4 1 0 1 1.4 1.7 7-0.2 2-3.5 8.2-3 0.4-0.4-3.6 0.4-1.3 1-0.7 0.5-9zM345.3 313.5l0.2-0.5 1-0.1 0.6 1.6 0.2 4-0.8 1.5-1.5-2.5-0.2-2zM340.1 315.5l0.4-0.5 0.8 0.5 0.2 2-1 11.5-1.2-0.5-1.5-6 0.1-2zM372.4 319.5l1.1-0.9 1 0.2 1 1.3 2.2 5.4-0.4 4-0.9 2-1.9 1.6-4.7 6.4 0 2 1.5 7-0.4 2-1.4 3-0.5 9-1.9 7-4.6 5.8-1.3-1.8-0.5-4 0.3-1 1.5-1.1 0.4-0.9 2.6-9-0.7-7-2.5-7 0.1-3 1.1-2.4 2-1.8 2 2.2 1-0.2 0.6-0.8 2-9 0.2-6zM347.7 322.5l0.8-0.4 0.4 0.4-0.4 0.8zM220.2 323.5l0.3-0.6 1.1 0.6 0.9 8 1.3 5-0.3 4-1 3.1-0.7-1.1-3.2-12 0.1-3zM350.6 326.5l0.9-0.7 1 0.6 0.3 1.1-0.3 2.4-1 1-1.2-0.4zM354.3 343.5l0.2-0.9 1 0.9 0.4 3-0.3 3-1.6 3-1.5 0.6-0.1-1.6zM335.8 349.5l0.7-0.4 0.4 2.4-0.4 2-1 0.5-0.7-1.5zM235.3 350.5l0.5 2-0.3 2.2-0.8-1.2zM356.9 353.5l0.6-0.8 1 0.1 0.7 1.7 0 3-0.7 3-1-0.1-1-2.9zM339.3 355.5l2.2-0.4 0.3 0.4 2.1 16 0.6 0.8 2 0.6 2.6 5.6-0.3 3-2.3 2.2-1-0.7-1.2-3.5-0.8-4.9-1-0.8-1 0.7-1-0.2-1.4-2.8-0.3-4-1.2-6 0.5-4zM225.7 357.5l0.8-0.7 1.9 3.7 2.1 2.1 0.9 2.9-0.5 4-2.9 4 2.8 17-0.3 2-1 1.4-1.5-0.4-0.9-2 0.9-6-1.5-7.3-1-1.3-1.1 0.6-0.9 1.4-0.6-0.4-0.6-5-2.1-5 0.3-1.5 1-1.2 0.4-1.3 0.6-5.6 1-0.8zM239.4 357.5l1.1 0.8 1.9 6.2 0.9 7-0.7 8 2.2 7-0.7 3-0.6 1.1-1 0.3-2-3-1-0.1-2 1.5-1-0.2-1.5-2.6-0.4-2 1.6-7 2.4-4-1-11 0.7-4zM353.2 373.5l0.3-0.7 1-0.1 1 0.4 1 1.5 1.2 2.9 0.2 3-0.5 2-2.1 2-2.8 7.9-1 1.1-1 0.1 0.3-3.1 3.7-8zM366.5 380.5l1-0.7 0.4 0.7 0.1 2-0.5 1.8-1-1zM345.5 384.5l0-0.5 2 9 2.2 2.5-0.2 3-1 0.8-3-3.4-2.5-5.4 0.1-2 2.2-3zM222.2 388.5l1.3 0.1 1 2.9-0.6 2-1.4 1.5-0.9-1.5-0.2-2 0.2-2zM360 390.5l0.5-0.8 1 0.6 1.7 5.2-0.4 4-1.3 2.1-1-0.5-0.6-1.6z"/>
<path fill="#50ffa7" fill-rule="evenodd" d="M211.3 108.5l1.2 0.9 1 2.9 0.9 5.2 0.6 8-0.2 1-0.8 1-2.7 2-0.1 6 0.2 177-0.4 13 0.5 7.3 1 0.5 1.1 2.2-0.4 6 0.9 10-0.4 5-1.2 2.9-1-0.8-0.3 3.9 0.3 5.8 2.6 12.2-0.9 5-0.7 1-1 0.1-0.4 3.9 0.1 182 0.1 5 2.7 2 0.8 1 0.2 1-0.6 8-0.9 5.2-1 2.9-1 1.1-1-1-2-0.3-3-1.2-3-0.4-5-3-3.6-3.3-4.4-6.3-3-3.3-4-8.3-2.6-4.1-2.1-16-0.2-12-2-9 0.2-8-1.6-14 1.1-11-0.3-12 3.9-21-0.4-3.4-2.1-3.6-0.3-3 1.3-4 3.1-4.5 1.6-6.5 0.1-4-1.6-19 0-6 0.4-2 4.9-9 1-3 0-9 1.5-9-3.1-14 0.5-2 2.7-3 0.9-5-1.4-14-3.7-21-0.8-3.1-3.6-4.9-1.6-9-0.4-6 1.4-9-0.2-4-2.6-10-3.3-6-0.6-4 0.4-2 2.5-2.8 0.4-1.2 1.1-10 1.4-7-0.6-3-3-7-0.9-5 0.7-5 3.2-7 0-4-1.5-9 0.4-2 2.8-6.3 0.8-4.7-0.8-4-3.1-5-1-5 0.3-6 1.7-11-0.5-9 5.1-11 6.5-7.7 3.2-8.3 1.8-2.8 3-2.2 4-2.1 4-3.1 2-0.7 4-0.1zM248.2 292.5l0.3-0.5 0 3.1-0.5-1.6zM271.9 316.5l1.6-1 1 0 1.3 1 0.3 1-0.6 8.5-1 6.3-1 1.1-1-1.9-0.8-6-1.2-5 0.2-2zM355.8 317.5l0.7-0.7 0.5 1.7-0.5 2.7-0.9-1.7zM305.4 320.5l0.1-0.5 0 4.1zM373 322.5l0.5-0.7 1 0.4 1.1 2.3 0.4 3-0.5 2-3 2.7 0-7.7zM254.9 325.5l0.6-0.6 1 0.7 0.3 3.9-0.5 3-0.8 1.2-1 0.1-1-1.3-0.5-3 0.3-2zM332.7 326.5l0.8-0.6 0 2.3-0.9-0.7zM243.7 329.5l0.8-0.7 0.9 0.7 0.6 2-0.5 4.5-1 0.8-1.2-3.3zM345.1 329.5l0.4-0.8 0.1 3.8-1.1 3.2-0.4-3.2zM298.5 331.5l1 1.3 0.4 2.7 0 5-0.4 1.4-1-5.5zM258.4 336.5l1.1 0.6 1 5.4-0.9 4-1.1 0.5-0.6-1.5-0.2-3 0.1-4zM290.4 337.5l1.1-0.7 1 0.2 0.3 2.5-0.4 9-0.9 1.8-1 0.2-1.1-1-0.6-4 0.4-5zM309.1 343.5l0.4-0.5 2 1.2 3.4-0.7 0.6 1 0 5-1 2.3-1 0.4-1-0.2-2-1.2-2-4.3zM368.3 346.5l0.2-0.4 0.6 0.4 0.2 1-0.8 1.2zM261 361.5l0.5-0.6 1.1 1.6-0.2 2-0.9 2-1-1.2 0-2.7zM273.4 361.5l0.1-0.5 1 0.4 0.2 1.1-0.2 2.3-1 1.9-0.4-1.2zM240.2 365.5l0.3-0.1 0.1 1.1-0.1 2.1-0.7-2.1zM266.3 366.5l0.2-0.5 1 0.1 1 2.4 0 9.8-1-0.2-1.8-5.6-0.1-3zM307.2 371.5l1.3-0.6 1.8 2.6 0.7 2 1.1 8-0.2 3-3.4 1.7-1-0.9-2-4.5-2-0.3-0.8-2 0.1-3 0.7-3zM259.9 375.5l0.6-0.4 1 0.7 1.2 3.7-1.5 9-0.7 1.9-1.1-0.9-0.7-9 0.3-3zM314.4 377.5l1.1-0.3 1 1.5 0.4 1.8-0.2 4-1.2 1.4-1.2-1.4-1-4zM279.9 379.5l0.6-0.3 0.4 1.3 0.7 5-0.1 3.4-1-0.1-1.1-3.3-0.2-4 0.3-1.8zM324.7 381.5l0.8-0.5 3 0.7 0.9 0.8-0.6 8-1.3 2.7-1 0.1-0.5-0.8-1.8-7-0.2-2z"/>
<path fill="#3cffba" fill-rule="evenodd" d="M211.5 118.5l1 2.4 0.6 5.6-0.2 1-1.8 2 0 3 0.1 180-0.7 11.6-3 2.1-2 3.4-1 0.5-3-2.7-1 0.1-2 2.5-0.1-20.5-2.5-13 1-7 0.4-7-0.9-25 2.7-26-0.6-5.4-2.4-8.6-0.5-3 1-9-0.5-11 0.9-12-1.8-10-0.5-17 1.2-6 3.9-14 4.7-13 2-2.8 1-0.4 3 0.2zM199 345.5l0.5-0.9 1 1.7 0.4 2.2-0.2 3-1.2 2.9-0.5-2.9zM211.4 345.5l1.1 1.7 0.2 2.3-0.2 2.5-1 1.2-0.5-0.7-0.3-2zM204.1 355.5l0.4-0.6 1 0.6 0.6 5-0.7 5-0.9 2.3-1 0.1-1.2-2.4-0.2-3 0.8-4zM208.9 377.5l1.6-1 0.6 19-0.1 176 0.1 6 1.8 2 0.2 1-0.6 5.6-1 2.4-1-1.6-2-0.7-6.6-4.7-2.4-2.7-1-2.3-2-14.1-2.7-8.9-1.5-18 0.6-11 1.5-11 0.4-7-0.6-7-1.9-9-0.2-6 1.8-8-0.1-10 4.7-19.6 0.2-2.4-1.6-16 1.5-14-1-9-0.1-12 0.7-3 6.3-9.5zM308.2 378.5l0.3-0.3 0.5 2.3-0.5 1.8-0.5-1.8z"/>
<path fill="#26ffd1" fill-rule="evenodd" d="M209.6 126.5l1.9-0.7 0.4 1.7-1 2-0.1 11 0.2 171-0.5 3.6-4.4-1.6-1.1-1-0.6-3-0.4-9 0.8-12-0.6-10 0-15 0.9-13-0.5-24 0-48-0.9-27 1.6-16 2.1-6zM209 392.5l1.5-0.6 0.4 3.6-0.1 167 0.2 15 0.9 2-0.4 1.7-1.9-0.7-1.6-2-1.8-4-1.1-4-1-30-0.8-11 0.2-41 0.8-13-0.1-12 0.8-25-0.9-13 0.6-9 0.1-19 0.5-3 1.1-1z"/>
<path fill="#13fce4" fill-rule="evenodd" d="M210.1 128.5l0.4-0.5 0.4 2.5-0.4 183.3-1.4-1.3-0.3-2 0.7-17.6 0.2-56.4-0.4-24 0.3-63-0.9-15 0.2-3zM210.1 393.5l0.4-0.3 0.3 2.3 0.1 181-0.4 2.5-1.3-2.5-0.4-4 0.6-11 0.2-35-0.5-14 0.5-28 0-66-0.7-22 0.4-2z"/>
<path fill="#00e0fb" fill-rule="evenodd" d="M210.1 129.5l0.4-0.6 0 12.1-0.7-8.5zM210.4 304.5l0.1-0.9 0 9.1-0.4-2.2zM210.4 567.5l0.1-1 0 11.6-0.7-2.6z"/>
</g>

<rect x="150.5" y="84.5" width="744" height="539" fill="none" stroke="#000" stroke-width="1.1"/>
<path d="M212.5 624v4.9M336.5 624v4.9M460.5 624v4.9M584.5 624v4.9M708.5 624v4.9M832.5 624v4.9M150 128.5h-4.9M150 241.5h-4.9M150 354.5h-4.9M150 465.5h-4.9M150 578.5h-4.9" stroke="#000" stroke-width="1.1" fill="none"/>
<g shape-rendering="crispEdges"><rect x="941" y="609.68" width="27" height="14.12" fill="#00008d"/><rect x="941" y="595.86" width="27" height="14.12" fill="#0000a8"/><rect x="941" y="582.04" width="27" height="14.12" fill="#0000c8"/><rect x="941" y="568.22" width="27" height="14.12" fill="#0000e3"/><rect x="941" y="554.40" width="27" height="14.12" fill="#0000ff"/><rect x="941" y="540.58" width="27" height="14.12" fill="#0010ff"/><rect x="941" y="526.76" width="27" height="14.12" fill="#0028ff"/><rect x="941" y="512.94" width="27" height="14.12" fill="#0044ff"/><rect x="941" y="499.12" width="27" height="14.12" fill="#005cff"/><rect x="941" y="485.29" width="27" height="14.12" fill="#0078ff"/><rect x="941" y="471.47" width="27" height="14.12" fill="#0090ff"/><rect x="941" y="457.65" width="27" height="14.12" fill="#00acff"/><rect x="941" y="443.83" width="27" height="14.12" fill="#00c8ff"/><rect x="941" y="430.01" width="27" height="14.12" fill="#00e0fb"/><rect x="941" y="416.19" width="27" height="14.12" fill="#13fce4"/><rect x="941" y="402.37" width="27" height="14.12" fill="#26ffd1"/><rect x="941" y="388.55" width="27" height="14.12" fill="#3cffba"/><rect x="941" y="374.73" width="27" height="14.12" fill="#50ffa7"/><rect x="941" y="360.91" width="27" height="14.12" fill="#66ff90"/><rect x="941" y="347.09" width="27" height="14.12" fill="#7dff7a"/><rect x="941" y="333.27" width="27" height="14.12" fill="#90ff66"/><rect x="941" y="319.45" width="27" height="14.12" fill="#a7ff50"/><rect x="941" y="305.63" width="27" height="14.12" fill="#baff3c"/><rect x="941" y="291.81" width="27" height="14.12" fill="#d1ff26"/><rect x="941" y="277.99" width="27" height="14.12" fill="#e4ff13"/><rect x="941" y="264.17" width="27" height="14.12" fill="#fbf100"/><rect x="941" y="250.35" width="27" height="14.12" fill="#ffdb00"/><rect x="941" y="236.53" width="27" height="14.12" fill="#ffc100"/><rect x="941" y="222.71" width="27" height="14.12" fill="#ffa700"/><rect x="941" y="208.88" width="27" height="14.12" fill="#ff9100"/><rect x="941" y="195.06" width="27" height="14.12" fill="#ff7700"/><rect x="941" y="181.24" width="27" height="14.12" fill="#ff6000"/><rect x="941" y="167.42" width="27" height="14.12" fill="#ff4700"/><rect x="941" y="153.60" width="27" height="14.12" fill="#ff3000"/><rect x="941" y="139.78" width="27" height="14.12" fill="#ff1600"/><rect x="941" y="125.96" width="27" height="14.12" fill="#e40000"/><rect x="941" y="112.14" width="27" height="14.12" fill="#c80000"/><rect x="941" y="98.32" width="27" height="14.12" fill="#a80000"/><rect x="941" y="84.50" width="27" height="14.12" fill="#8d0000"/></g>
<rect x="941.5" y="84.5" width="26" height="539" fill="none" stroke="#000" stroke-width="1.1"/>
<path d="M968 84.5h4.9M968 218.5h4.9M968 354.5h4.9M968 488.5h4.9M968 623.5h4.9" stroke="#000" stroke-width="1.1" fill="none"/>
<text class="m" x="522.20" y="76.00" font-size="29.60" text-anchor="middle" textLength="468.20" lengthAdjust="spacingAndGlyphs">ex averaged at 280.096614 fs</text>
<rect x="321.3" y="81.9" width="17.0" height="1.3" fill="#000"/>
<text class="s" x="140.00" y="139.02" font-size="29.70" text-anchor="end" textLength="34.70" lengthAdjust="spacingAndGlyphs">10</text>
<text class="s" x="140.00" y="251.31" font-size="29.70" text-anchor="end" textLength="17.35" lengthAdjust="spacingAndGlyphs">5</text>
<text class="s" x="140.00" y="363.60" font-size="29.70" text-anchor="end" textLength="17.35" lengthAdjust="spacingAndGlyphs">0</text>
<text class="s" x="140.00" y="475.89" font-size="29.70" text-anchor="end" textLength="40.63" lengthAdjust="spacingAndGlyphs">−5</text>
<text class="s" x="140.00" y="588.18" font-size="29.70" text-anchor="end" textLength="57.98" lengthAdjust="spacingAndGlyphs">−10</text>
<text class="s" x="212.00" y="655.30" font-size="30.00" text-anchor="middle" textLength="17.35" lengthAdjust="spacingAndGlyphs">0</text>
<text class="s" x="336.00" y="655.30" font-size="30.00" text-anchor="middle" textLength="34.70" lengthAdjust="spacingAndGlyphs">10</text>
<text class="s" x="460.00" y="655.30" font-size="30.00" text-anchor="middle" textLength="34.70" lengthAdjust="spacingAndGlyphs">20</text>
<text class="s" x="584.00" y="655.30" font-size="30.00" text-anchor="middle" textLength="34.70" lengthAdjust="spacingAndGlyphs">30</text>
<text class="s" x="708.00" y="655.30" font-size="30.00" text-anchor="middle" textLength="34.70" lengthAdjust="spacingAndGlyphs">40</text>
<text class="s" x="832.00" y="655.30" font-size="30.00" text-anchor="middle" textLength="34.70" lengthAdjust="spacingAndGlyphs">50</text>
<text class="s" x="978.00" y="92.10" font-size="22.50" text-anchor="start" textLength="58.05" lengthAdjust="spacingAndGlyphs">27.55</text>
<text class="s" x="978.00" y="226.85" font-size="22.50" text-anchor="start" textLength="58.05" lengthAdjust="spacingAndGlyphs">13.77</text>
<text class="s" x="978.00" y="361.60" font-size="22.50" text-anchor="start" textLength="45.15" lengthAdjust="spacingAndGlyphs">0.00</text>
<text class="s" x="978.00" y="496.35" font-size="22.50" text-anchor="start" textLength="75.51" lengthAdjust="spacingAndGlyphs">−13.77</text>
<text class="s" x="978.00" y="631.10" font-size="22.50" text-anchor="start" textLength="75.51" lengthAdjust="spacingAndGlyphs">−27.55</text>
<text class="m" x="477.10" y="689.80" font-size="31.00" text-anchor="middle" textLength="16.72" lengthAdjust="spacingAndGlyphs">X</text>
<text class="m" x="510.10" y="687.60" font-size="27.60" text-anchor="middle" textLength="16.72" lengthAdjust="spacingAndGlyphs">[</text>
<text class="i" x="520.00" y="689.80" font-size="29.30" text-anchor="start" textLength="43.00" lengthAdjust="spacingAndGlyphs">μm</text>
<text class="m" x="571.30" y="687.60" font-size="27.60" text-anchor="middle" textLength="16.72" lengthAdjust="spacingAndGlyphs">]</text>
<g transform="translate(67.2,398) rotate(-90)"><text class="m" x="0.00" y="0.00" font-size="31.00" text-anchor="middle" textLength="16.72" lengthAdjust="spacingAndGlyphs">Z</text><text class="m" x="32.60" y="-2.20" font-size="27.60" text-anchor="middle" textLength="16.72" lengthAdjust="spacingAndGlyphs">[</text><text class="i" x="41.20" y="0.00" font-size="29.30" text-anchor="start" textLength="43.00" lengthAdjust="spacingAndGlyphs">μm</text><text class="m" x="92.00" y="-2.20" font-size="27.60" text-anchor="middle" textLength="16.72" lengthAdjust="spacingAndGlyphs">]</text></g>
<g transform="translate(1080.8,354.5) rotate(-90)"><text class="m" x="0.00" y="0.00" font-size="29.80" text-anchor="middle" textLength="418.00" lengthAdjust="spacingAndGlyphs">Normalized electric field</text></g>
</svg></body></html>
